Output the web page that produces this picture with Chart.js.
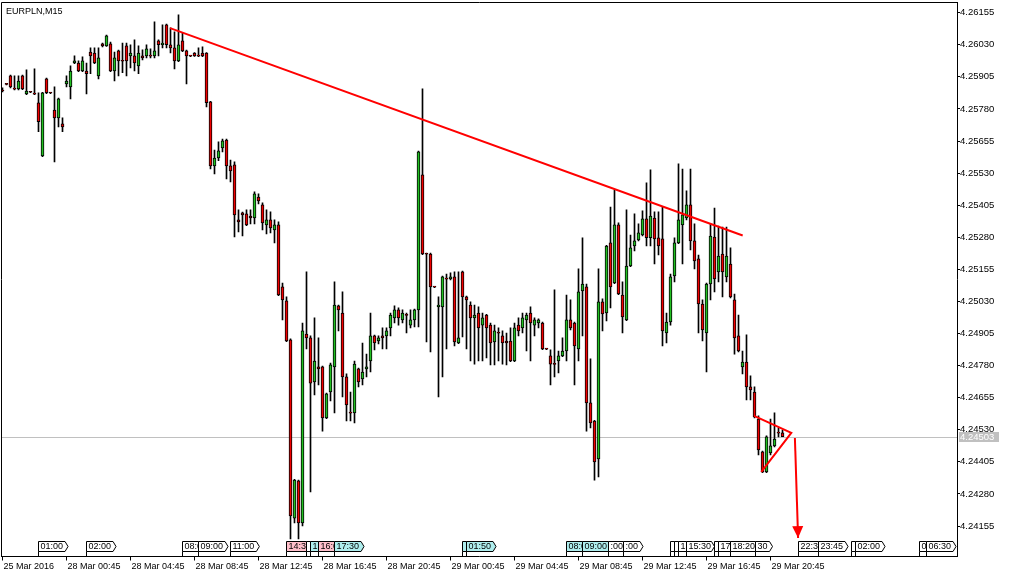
<!DOCTYPE html>
<html>
<head>
<meta charset="utf-8">
<script src="https://cdn.jsdelivr.net/npm/chart.js@4.4.0/dist/chart.umd.min.js"></script>
<style>
  html, body { margin: 0; padding: 0; background: #fff; }
</style>
</head>
<body>
<canvas id="myChart" width="1010" height="578"></canvas>
<script>
// EURPLN M15 candles
const opens = [4.25854,4.25878,4.25909,4.25858,4.25858,4.25909,4.25839,4.25846,4.25839,4.25804,
4.25597,4.25897,4.25843,4.25776,4.25745,4.25722,4.25878,4.25866,4.25959,4.25959,
4.25928,4.25928,4.26002,4.25998,4.25909,4.26034,4.26026,4.26034,4.25928,4.26006,
4.25967,4.26026,4.25987,4.25987,4.25948,4.25987,4.25987,4.25987,4.25987,4.26045,
4.26030,4.26108,4.26030,4.26018,4.25967,4.26045,4.26006,4.25987,4.25998,4.25987,
4.25998,4.25998,4.25808,4.25558,4.25589,4.25628,4.25659,4.25558,4.25562,4.25348,
4.25375,4.25371,4.25363,4.25355,4.25437,4.25406,4.25328,4.25348,4.25309,4.25328,
4.25087,4.25032,4.24880,4.24186,4.24331,4.24167,4.24903,4.24888,4.24716,4.24775,
4.24775,4.24576,4.24677,4.24775,4.25013,4.24985,4.24736,4.24596,4.24596,4.24767,
4.24728,4.24767,4.24798,4.24896,4.24876,4.24896,4.24896,4.24927,4.24966,4.24997,
4.24958,4.24977,4.24938,4.24958,4.24997,4.25523,4.25215,4.25215,4.25087,4.25009,
4.25009,4.25118,4.25118,4.25126,4.24868,4.25145,4.25048,4.25016,4.24966,4.24985,
4.24938,4.24977,4.24938,4.24872,4.24907,4.24896,4.24876,4.24876,4.24798,4.24938,
4.24927,4.24958,4.24985,4.24938,4.24946,4.24946,4.24845,4.24818,4.24786,4.24798,
4.24818,4.24837,4.24958,4.24946,4.24845,4.25071,4.25087,4.24635,4.24564,4.24416,
4.25028,4.24985,4.25258,4.25102,4.25328,4.25055,4.24958,4.25168,4.25246,4.25270,
4.25289,4.25352,4.25278,4.25355,4.25278,4.25274,4.24907,4.24950,4.25129,4.25258,
4.25328,4.25355,4.25406,4.25266,4.25196,4.25020,4.24907,4.25098,4.25281,4.25145,
4.25215,4.25126,4.25176,4.25036,4.24896,4.24775,4.24794,4.24697,4.24677,4.24572,
4.24444,4.24366,4.24440,4.24467,4.24518,4.24518];
const highs = [4.25862,4.25880,4.25912,4.25909,4.25909,4.25912,4.25932,4.25848,4.25936,4.25843,
4.25845,4.25900,4.25845,4.25866,4.25822,4.25745,4.25909,4.25948,4.25987,4.25967,
4.25983,4.25959,4.26018,4.26018,4.26018,4.26037,4.26068,4.26041,4.26002,4.26009,
4.26037,4.26037,4.26030,4.26049,4.26026,4.26010,4.26030,4.26014,4.26119,4.26049,
4.26108,4.26111,4.26096,4.26080,4.26147,4.26076,4.26009,4.25989,4.26000,4.26018,
4.26022,4.26000,4.25810,4.25620,4.25652,4.25663,4.25663,4.25581,4.25574,4.25387,
4.25378,4.25387,4.25387,4.25457,4.25449,4.25414,4.25387,4.25379,4.25348,4.25340,
4.25102,4.25048,4.24884,4.24337,4.24334,4.24946,4.25145,4.24896,4.24966,4.24888,
4.24778,4.24673,4.24790,4.25106,4.25016,4.25067,4.24748,4.24677,4.24798,4.24770,
4.24868,4.24825,4.24985,4.24899,4.24896,4.24927,4.24927,4.24985,4.25013,4.25005,
4.24997,4.24985,4.24997,4.25000,4.25616,4.25858,4.25218,4.25218,4.25089,4.25048,
4.25129,4.25137,4.25141,4.25145,4.25145,4.25148,4.25051,4.25028,4.25016,4.25009,
4.24985,4.24980,4.24946,4.24938,4.24927,4.24915,4.24907,4.24927,4.24946,4.24966,
4.24985,4.24985,4.25009,4.24966,4.24962,4.24950,4.24847,4.24841,4.25075,4.24837,
4.24888,4.25055,4.25036,4.24950,4.25157,4.25278,4.25098,4.24806,4.24567,4.25157,
4.25040,4.25249,4.25398,4.25465,4.25336,4.25106,4.25387,4.25289,4.25371,4.25332,
4.25383,4.25492,4.25543,4.25379,4.25379,4.25398,4.24985,4.25137,4.25278,4.25566,
4.25546,4.25461,4.25546,4.25332,4.25211,4.25036,4.25102,4.25332,4.25394,4.25324,
4.25320,4.25320,4.25239,4.25059,4.24977,4.24837,4.24900,4.24740,4.24697,4.24584,
4.24447,4.24506,4.24572,4.24596,4.24537,4.24529];
const lows = [4.25846,4.25874,4.25862,4.25854,4.25854,4.25855,4.25836,4.25843,4.25836,4.25691,
4.25594,4.25840,4.25840,4.25574,4.25710,4.25691,4.25866,4.25819,4.25956,4.25925,
4.25925,4.25839,4.25917,4.25956,4.25897,4.26022,4.26024,4.25925,4.25889,4.25909,
4.25921,4.25909,4.25940,4.25928,4.25917,4.25971,4.25979,4.25979,4.25979,4.25987,
4.26018,4.26018,4.25998,4.25936,4.25964,4.26003,4.25878,4.25984,4.25985,4.25984,
4.25984,4.25788,4.25546,4.25527,4.25578,4.25613,4.25507,4.25496,4.25281,4.25301,
4.25285,4.25325,4.25332,4.25332,4.25410,4.25309,4.25293,4.25297,4.25258,4.25052,
4.24958,4.24873,4.24105,4.24167,4.24105,4.24155,4.24845,4.24288,4.24666,4.24705,
4.24525,4.24573,4.24642,4.24596,4.24915,4.24658,4.24564,4.24564,4.24557,4.24697,
4.24705,4.24736,4.24755,4.24841,4.24864,4.24845,4.24845,4.24896,4.24946,4.24938,
4.24946,4.24907,4.24927,4.24931,4.24931,4.25212,4.24872,4.24833,4.25084,4.24658,
4.24736,4.24845,4.25114,4.24857,4.24865,4.24892,4.24845,4.24798,4.24786,4.24798,
4.24798,4.24810,4.24783,4.24783,4.24798,4.24786,4.24783,4.24795,4.24795,4.24896,
4.24907,4.24837,4.24798,4.24896,4.24927,4.24842,4.24842,4.24705,4.24736,4.24751,
4.24815,4.24798,4.24919,4.24705,4.24798,4.24896,4.24525,4.24537,4.24334,4.24346,
4.24915,4.24954,4.25005,4.25099,4.25056,4.24907,4.24955,4.25165,4.25227,4.25266,
4.25285,4.25246,4.25246,4.25176,4.25211,4.24857,4.24868,4.24938,4.25106,4.25255,
4.25176,4.25348,4.25231,4.25157,4.24907,4.24876,4.24755,4.25036,4.25067,4.25106,
4.25048,4.25106,4.25044,4.24825,4.24833,4.24748,4.24646,4.24646,4.24576,4.24432,
4.24363,4.24363,4.24432,4.24463,4.24502,4.24503];
const closes = [4.25850,4.25876,4.25866,4.25857,4.25889,4.25858,4.25850,4.25845,4.25838,4.25730,
4.25843,4.25843,4.25842,4.25745,4.25819,4.25710,4.25889,4.25928,4.25967,4.25928,
4.25967,4.25917,4.25987,4.25959,4.25979,4.26026,4.26065,4.25928,4.25979,4.25967,
4.25966,4.25967,4.25998,4.25959,4.25998,4.25979,4.26014,4.25986,4.26006,4.26030,
4.26037,4.26030,4.26018,4.25967,4.26030,4.26006,4.25987,4.25986,4.25987,4.25986,
4.25987,4.25804,4.25558,4.25589,4.25617,4.25656,4.25558,4.25539,4.25367,4.25340,
4.25367,4.25328,4.25355,4.25449,4.25422,4.25336,4.25348,4.25316,4.25328,4.25055,
4.25036,4.24876,4.24194,4.24334,4.24167,4.24915,4.24888,4.24712,4.24798,4.24767,
4.24576,4.24670,4.24783,4.25016,4.24997,4.24736,4.24627,4.24595,4.24786,4.24716,
4.24755,4.24775,4.24896,4.24868,4.24888,4.24888,4.24915,4.24977,4.24997,4.24966,
4.24985,4.24976,4.24958,4.24997,4.25613,4.25215,4.25214,4.25087,4.25086,4.25016,
4.25126,4.25117,4.25126,4.24872,4.24888,4.25048,4.25036,4.24966,4.24977,4.24927,
4.24966,4.24927,4.24868,4.24915,4.24906,4.24868,4.24868,4.24798,4.24927,4.24915,
4.24966,4.24977,4.24946,4.24958,4.24958,4.24845,4.24844,4.24786,4.24785,4.24818,
4.24837,4.24958,4.24927,4.24857,4.25067,4.25098,4.24635,4.24557,4.24405,4.25028,
4.24981,4.25246,4.25087,4.25328,4.25059,4.24970,4.25168,4.25239,4.25266,4.25297,
4.25352,4.25278,4.25363,4.25274,4.25246,4.24915,4.24950,4.25126,4.25258,4.25348,
4.25367,4.25406,4.25266,4.25188,4.25020,4.24919,4.25098,4.25285,4.25118,4.25207,
4.25145,4.25207,4.25048,4.24888,4.24837,4.24794,4.24697,4.24685,4.24580,4.24451,
4.24366,4.24502,4.24467,4.24494,4.24517,4.24503];

// axis ticks
const xTickIdx = [0, 16, 32, 48, 64, 80, 96, 112, 128, 144, 160, 176, 192];
const xTickLabels = ["25 Mar 2016", "28 Mar 00:45", "28 Mar 04:45", "28 Mar 08:45", "28 Mar 12:45",
  "28 Mar 16:45", "28 Mar 20:45", "29 Mar 00:45", "29 Mar 04:45", "29 Mar 08:45",
  "29 Mar 12:45", "29 Mar 16:45", "29 Mar 20:45"];
const yTickValues = [4.24155, 4.24280, 4.24405, 4.24530, 4.24655, 4.24780, 4.24905, 4.25030, 4.25155,
  4.25280, 4.25405, 4.25530, 4.25655, 4.25780, 4.25905, 4.26030, 4.26155];

// drawn objects (bar index, price)
const trendX = [41.9, 185.05];
const trendY = [4.26095, 4.25287];
const triX = [187.9, 197.2, 189.7];
const triY = [4.24584, 4.24518, 4.24366];
const arrowX = [198.1, 198.9];
const arrowY = [4.24498, 4.24108];

// event flags along the bottom (bar index, text, colour)
const evIdx = [9, 21, 45, 49, 57, 71, 76, 77, 79, 83, 115, 116, 141, 145, 151.5, 155.25,
  167, 168, 169, 171, 178, 179, 182, 188.25, 199, 204, 212.3, 213.2, 229.2, 230.9];
const evText = ["01:00", "02:00", "08:00", "09:00", "11:00", "14:30", "", "15:00", "16:00", "17:30", "", "01:50",
  "08:00", "09:00", ":00", ":00", "", "", "13:00", "15:30", "", "17:00", "18:20", "30", "22:30", "23:45",
  "", "02:00", "05:00", "06:30"];
const evColor = ["w", "w", "w", "w", "w", "p", "w", "b", "p", "b", "b", "b", "b", "b", "w", "w",
  "w", "w", "w", "w", "w", "w", "w", "w", "w", "w", "w", "w", "w", "w"];

const FONT = "'Liberation Sans', Arial, sans-serif";
const GREEN = "#22c022";
const RED = "#f00000";
const flagFill = { w: "#ffffff", p: "#ffc0cb", b: "#afeeee" };

const bodies = opens.map((o, i) => ({ x: i, y: [o, closes[i]] }));
const wicks = lows.map((l, i) => ({ x: i, y: [l, highs[i]] }));
const bodyColors = opens.map((o, i) => closes[i] > o ? GREEN : RED);

const toPts = (xs, ys) => xs.map((v, i) => ({ x: v, y: ys[i] }));

const mt4 = {
  id: "mt4",
  beforeDatasetsDraw(chart) {
    const { ctx, chartArea: a, scales } = chart;
    const py = Math.round(scales.y.getPixelForValue(closes[closes.length - 1])) + 0.5;
    ctx.save();
    ctx.strokeStyle = "#c0c0c0";
    ctx.lineWidth = 1;
    ctx.beginPath();
    ctx.moveTo(a.left, py);
    ctx.lineTo(a.right, py);
    ctx.stroke();
    ctx.restore();
  },
  afterDatasetsDraw(chart) {
    const { ctx, chartArea: a, scales } = chart;
    const xs = scales.x, ys = scales.y;
    ctx.save();

    // arrow head
    const n = arrowX.length;
    const x1 = xs.getPixelForValue(arrowX[n - 1]), y1 = ys.getPixelForValue(arrowY[n - 1]);
    const x0 = xs.getPixelForValue(arrowX[n - 2]), y0 = ys.getPixelForValue(arrowY[n - 2]);
    const ang = Math.atan2(y1 - y0, x1 - x0);
    ctx.fillStyle = "#ff0000";
    ctx.beginPath();
    ctx.moveTo(x1, y1);
    ctx.lineTo(x1 - 12 * Math.cos(ang) + 5.5 * Math.sin(ang), y1 - 12 * Math.sin(ang) - 5.5 * Math.cos(ang));
    ctx.lineTo(x1 - 12 * Math.cos(ang) - 5.5 * Math.sin(ang), y1 - 12 * Math.sin(ang) + 5.5 * Math.cos(ang));
    ctx.closePath();
    ctx.fill();

    // event flags
    ctx.font = "9px " + FONT;
    ctx.lineWidth = 1;
    const top = 541.5, bot = 551.5, mid = 546.5;
    const px = (v) => Math.round(xs.getPixelForValue(v) - 0.5) + 0.5;
    for (let k = 0; k < evIdx.length; k++) {
      const l = px(evIdx[k]);
      const tw = ctx.measureText(evText[k]).width;
      const next = k < evIdx.length - 1 ? px(evIdx[k + 1]) : a.right;
      let r = l + tw + 7;
      let arrow = true;
      if (r > next) { r = next; arrow = tw > 0 && (r - l) >= tw + 4; }
      ctx.beginPath();
      ctx.moveTo(l, top);
      if (arrow) {
        ctx.lineTo(r - 3, top);
        ctx.lineTo(r, mid);
        ctx.lineTo(r - 3, bot);
      } else {
        ctx.lineTo(r, top);
        ctx.lineTo(r, bot);
      }
      ctx.lineTo(l, bot);
      ctx.closePath();
      ctx.fillStyle = flagFill[evColor[k]];
      ctx.fill();
      ctx.strokeStyle = "#000";
      ctx.stroke();
      ctx.save();
      ctx.clip();
      ctx.fillStyle = "#000";
      ctx.textBaseline = "middle";
      ctx.fillText(evText[k], l + 2, mid + 0.5);
      ctx.restore();
      ctx.beginPath();
      ctx.moveTo(l, bot);
      ctx.lineTo(l, a.bottom);
      ctx.stroke();
    }
    ctx.restore();
  },
  afterDraw(chart) {
    const { ctx, chartArea: a, scales } = chart;
    ctx.save();
    ctx.strokeStyle = "#000";
    ctx.lineWidth = 1;
    ctx.beginPath();
    ctx.moveTo(a.left + 0.5, a.bottom);
    ctx.lineTo(a.left + 0.5, a.top + 0.5);
    ctx.lineTo(a.right, a.top + 0.5);
    ctx.stroke();

    ctx.fillStyle = "#000";
    ctx.font = "9px " + FONT;
    ctx.textBaseline = "alphabetic";
    ctx.fillText("EURPLN,M15", 6, 13.5);

    // bid label
    const last = closes[closes.length - 1];
    const py = Math.round(scales.y.getPixelForValue(last));
    ctx.fillStyle = "#c0c0c0";
    ctx.fillRect(959, py - 5, 40, 10);
    ctx.fillStyle = "#fff";
    ctx.font = "9.5px " + FONT;
    ctx.textBaseline = "middle";
    ctx.fillText(last.toFixed(5), 960, py + 0.5);
    ctx.restore();
  }
};

const noPad = (s) => { s.paddingLeft = 0; s.paddingRight = 0; s.paddingTop = 0; s.paddingBottom = 0; };

new Chart(document.getElementById("myChart"), {
  type: "bar",
  data: {
    datasets: [
      { type: "line", data: toPts(trendX, trendY), borderColor: "#ff0000", borderWidth: 2, pointRadius: 0, fill: false, order: 0 },
      { type: "line", data: toPts(triX, triY), borderColor: "#ff0000", borderWidth: 2, pointRadius: 0, fill: false, order: 0 },
      { type: "line", data: toPts(arrowX, arrowY), borderColor: "#ff0000", borderWidth: 2, pointRadius: 0, fill: false, order: 0 },
      { data: bodies, backgroundColor: bodyColors, borderColor: "#000", borderWidth: 1, borderSkipped: false,
        barThickness: 3, minBarLength: 1, grouped: false, order: 1 },
      { data: wicks, backgroundColor: "#000", borderWidth: 0, barThickness: 1, minBarLength: 1, grouped: false, order: 2 }
    ]
  },
  options: {
    responsive: false,
    animation: false,
    devicePixelRatio: 1,
    events: [],
    layout: { padding: { left: 1, top: 2, right: 0, bottom: 0 } },
    plugins: { legend: { display: false }, tooltip: { enabled: false } },
    scales: {
      x: {
        type: "linear",
        min: -0.375,
        max: 238.625,
        offset: false,
        afterBuildTicks: (s) => { s.ticks = xTickIdx.map(v => ({ value: v })); },
        afterFit: (s) => { s.height = 21.5; noPad(s); },
        grid: { offset: false, drawOnChartArea: false, drawTicks: true, tickLength: 4, color: "#000" },
        border: { display: true, color: "#000" },
        ticks: {
          autoSkip: false, maxRotation: 0, minRotation: 0, align: "start", labelOffset: 1, padding: 1,
          color: "#000", font: { family: FONT, size: 9 },
          callback: (v, i) => xTickLabels[i]
        }
      },
      y: {
        position: "right",
        min: 4.240362,
        max: 4.261967,
        afterBuildTicks: (s) => { s.ticks = yTickValues.map(v => ({ value: v })); },
        afterFit: (s) => { s.width = 53; noPad(s); },
        grid: { drawOnChartArea: false, drawTicks: true, tickLength: 3, color: "#000" },
        border: { display: true, color: "#000" },
        ticks: {
          padding: 0, color: "#000", font: { family: FONT, size: 9.5 },
          callback: (v) => Number(v).toFixed(5)
        }
      }
    }
  },
  plugins: [mt4]
});
</script>
</body>
</html>
